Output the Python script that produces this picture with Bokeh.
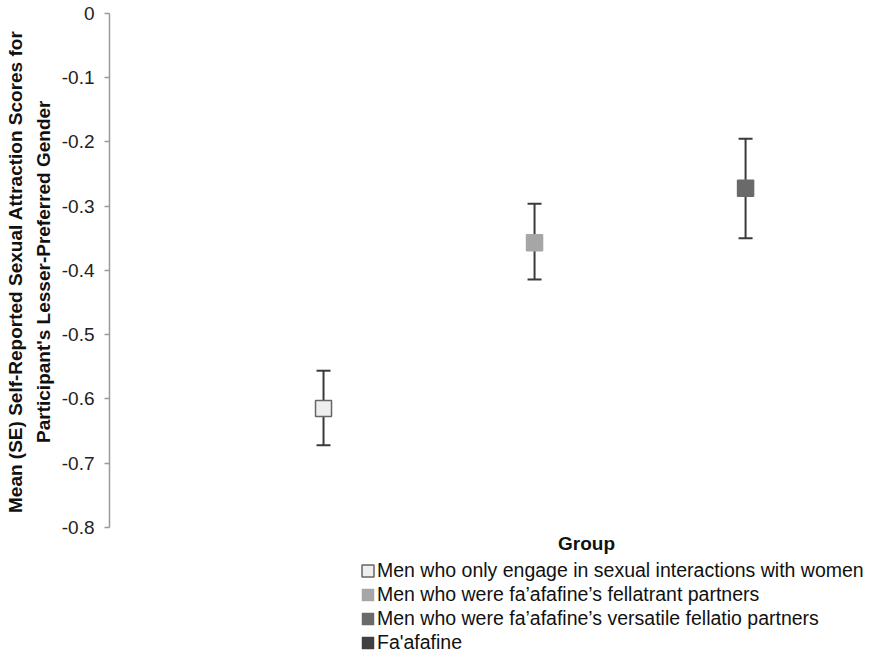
from bokeh.plotting import figure
from bokeh.models import (ColumnDataSource, Whisker, TeeHead, Range1d, FixedTicker,
                          Legend, LegendItem, Label, Title)
from bokeh.embed import file_html
from bokeh.resources import INLINE

# ---- data ----
groups = ["Men who only engage in sexual interactions with women",
          "Men who were fa\u2019afafine\u2019s fellatrant partners",
          "Men who were fa\u2019afafine\u2019s versatile fellatio partners",
          "Fa'afafine"]
group_colors = ["#eeeeee", "#a6a6a6", "#6a6a6a", "#404040"]
group_lines = ["#666666", "#a6a6a6", "#6a6a6a", "#404040"]

plot_pos = [1, 2, 3]
means = [-0.615, -0.357, -0.272]
upper = [-0.556, -0.296, -0.195]
lower = [-0.672, -0.414, -0.350]

y_ticks = [0, -0.1, -0.2, -0.3, -0.4, -0.5, -0.6, -0.7, -0.8]
y_tick_labels = ["0", "-0.1", "-0.2", "-0.3", "-0.4", "-0.5", "-0.6", "-0.7", "-0.8"]
y_title_lines = ["Mean (SE) Self-Reported Sexual Attraction Scores for",
                 "Participant's Lesser-Preferred Gender"]
x_title = "Group"

FONT = "Liberation Sans"
NAN = float("nan")

p = figure(width=870, height=654, output_backend="svg", toolbar_location=None,
           x_range=Range1d(-0.0142, 3.592), y_range=Range1d(-0.9977, 0),
           x_axis_location=None, min_border_left=109, min_border_top=13,
           min_border_bottom=0, min_border_right=0)
p.outline_line_color = None
p.xgrid.visible = False
p.ygrid.visible = False
p.background_fill_color = "white"
p.border_fill_color = "white"

src = ColumnDataSource(dict(x=plot_pos, y=means, upper=upper, lower=lower,
                            fill=group_colors[:3], line=group_lines[:3]))

wh = Whisker(source=src, base="x", upper="upper", lower="lower",
             line_color="#3a3a3a", line_width=2, level="underlay",
             upper_head=TeeHead(size=14, line_color="#3a3a3a", line_width=2),
             lower_head=TeeHead(size=14, line_color="#3a3a3a", line_width=2))
p.add_layout(wh)

p.scatter("x", "y", source=src, marker="square", size=16,
          fill_color="fill", line_color="line", line_width=1.5)

# y axis
ax = p.yaxis[0]
ax.bounds = (-0.8, 0)
ax.ticker = FixedTicker(ticks=y_ticks)
ax.major_label_overrides = {t: l for t, l in zip(y_ticks, y_tick_labels)}
ax.minor_tick_line_color = None
ax.major_tick_in = 0
ax.major_tick_out = 5
ax.axis_line_color = "#9a9a9a"
ax.axis_line_width = 1.5
ax.major_tick_line_color = "#9a9a9a"
ax.major_tick_line_width = 1.5
ax.major_label_text_font = FONT
ax.major_label_text_font_size = "19px"
ax.major_label_text_color = "#222222"
ax.major_label_standoff = 10

# y axis title as two left-side titles (inner line first)
t2 = Title(text=y_title_lines[1], align="right", offset=87, standoff=10,
           text_font=FONT, text_font_style="bold", text_font_size="19px",
           text_color="#111111")
t1 = Title(text=y_title_lines[0], align="right", offset=17, standoff=0,
           text_font=FONT, text_font_style="bold", text_font_size="19px",
           text_color="#111111")
p.add_layout(t2, "left")
p.add_layout(t1, "left")

# legend swatches (legend-only renderers)
items = []
for g, c, lc in zip(groups, group_colors, group_lines):
    r = p.quad(left=[NAN], right=[NAN], top=[NAN], bottom=[NAN], fill_color=c,
               line_color=lc, line_width=1.5 if lc != c else 0.5)
    items.append(LegendItem(label=g, renderers=[r]))

leg = Legend(items=items, location=(251, 0), orientation="vertical",
             label_text_font=FONT, label_text_font_size="19.5px",
             label_text_color="#111111",
             glyph_width=15, glyph_height=15, label_height=21,
             label_standoff=2, spacing=1, padding=0, margin=0,
             border_line_color=None, background_fill_alpha=0)
p.add_layout(leg, "center")

title = Label(x=477, y=111, x_units="screen", y_units="screen", text=x_title,
              text_font=FONT, text_font_style="bold", text_font_size="19px",
              text_align="center", text_baseline="middle", text_color="#111111")
p.add_layout(title)

open("out.html", "w").write(file_html(p, INLINE))
